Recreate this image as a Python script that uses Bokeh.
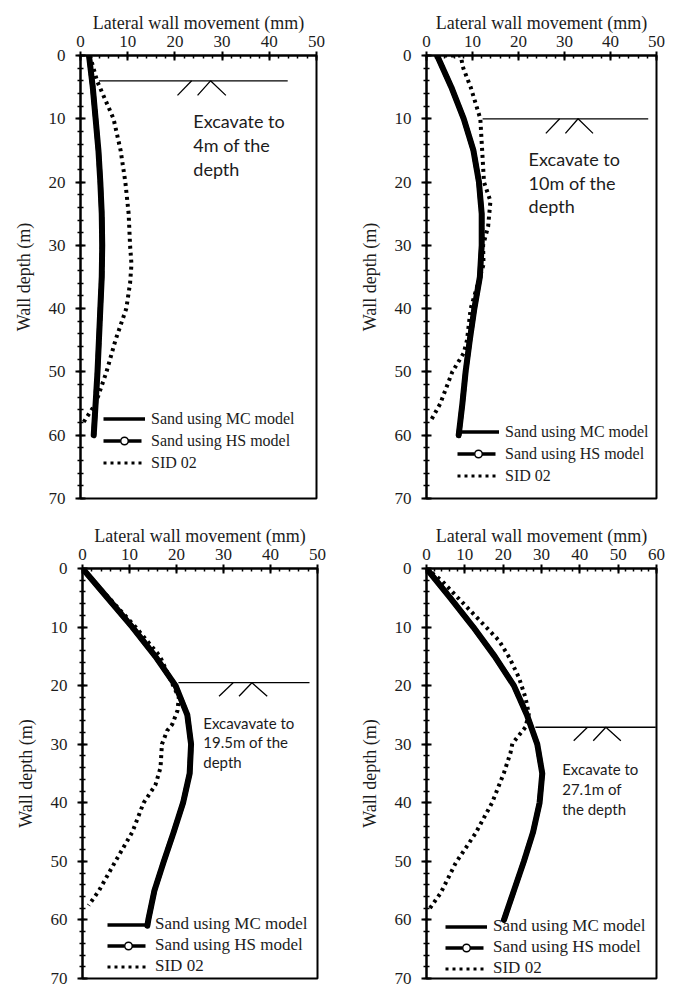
from bokeh.plotting import figure
from bokeh.models import Range1d, SingleIntervalTicker, Legend, LegendItem
from bokeh.layouts import column, row
from bokeh.embed import file_html
from bokeh.resources import INLINE
from bokeh.core.properties import value

# ---------------- data ----------------
# Panel 1: excavate to 4 m
mc1_depth = [0, 5, 10, 15, 20, 25, 30, 35, 40, 45, 50, 55, 60]
mc1_x = [1.8, 2.6, 3.2, 3.8, 4.2, 4.5, 4.6, 4.5, 4.2, 3.9, 3.6, 3.2, 2.8]
hs1_depth = mc1_depth
hs1_x = mc1_x
sid1_depth = [0, 4, 10, 15, 20, 25, 30, 33, 36, 40, 45, 50, 55, 58]
sid1_x = [2.0, 3.5, 7.0, 8.5, 9.5, 10.2, 10.5, 10.8, 10.5, 9.7, 7.4, 5.5, 3.2, 0.6]

# Panel 2: excavate to 10 m
mc2_depth = [0, 5, 10, 15, 20, 25, 30, 35, 40, 45, 50, 55, 60]
mc2_x = [2.3, 5.4, 8.1, 10.2, 11.4, 12.0, 12.0, 11.6, 10.4, 9.4, 8.5, 7.8, 7.0]
hs2_depth = mc2_depth
hs2_x = mc2_x
sid2_depth = [0, 0, 2, 5, 10, 15, 20, 23, 27, 30, 33, 40, 45, 47, 50, 55, 58]
sid2_x = [2.3, 7.4, 8.0, 9.6, 11.7, 12.1, 12.5, 13.9, 13.4, 12.3, 12.4, 9.6, 8.8, 8.1, 5.6, 3.0, 0.7]

# Panel 3: excavate to 19.5 m
mc3_depth = [0, 5, 10, 15, 20, 25, 30, 35, 40, 45, 50, 55, 60, 61]
mc3_x = [0, 5.3, 10.6, 15.5, 19.8, 22.3, 23.1, 22.8, 21.4, 19.4, 17.3, 15.3, 14.0, 13.8]
hs3_depth = mc3_depth
hs3_x = mc3_x
sid3_depth = [0, 5, 10, 15, 19, 22, 24.3, 26.6, 27.7, 30, 34, 37, 40, 45, 50, 55, 57.5]
sid3_x = [0, 5.6, 11.3, 16.5, 18.7, 20.5, 20.2, 19.1, 18.0, 16.9, 16.6, 15.5, 13.0, 10.6, 7.0, 3.5, 1.3]

# Panel 4: excavate to 27.1 m
mc4_depth = [0, 5, 10, 15, 20, 25, 30, 35, 40, 45, 50, 55, 60]
mc4_x = [0, 6.2, 12.2, 17.8, 22.8, 26.2, 28.9, 30.2, 29.5, 27.8, 25.4, 22.8, 20.2]
hs4_depth = mc4_depth
hs4_x = mc4_x
sid4_depth = [0, 2.1, 5, 9.5, 12.3, 15.2, 18.6, 22, 24.8, 27.1, 29.9, 31.5, 34.9, 40, 45.2, 50.3, 55.4, 58]
sid4_x = [0, 4.0, 8.2, 14.8, 18.9, 21.6, 24.1, 25.8, 26.7, 25.8, 22.4, 21.9, 20.2, 17.1, 12.8, 7.6, 3.7, 0.9]

# excavation levels (m) and ground line extent (mm)
exc_depths = [4, 10, 19.5, 27.1]
ground_start = [3.9, 12.2, 20.4, 28.4]
ground_end = [43.9, 48.2, 48.3, 59.8]

x_max = [50, 50, 50, 60]
x_tick_step = 10
y_max = 70
y_tick_step = 10

x_title = "Lateral wall movement (mm)"
y_title = "Wall depth (m)"
legend_labels = ["Sand using MC model", "Sand using HS model", "SID 02"]
notes = [
    ["Excavate to", "4m of the", "depth"],
    ["Excavate to", "10m of the", "depth"],
    ["Excavavate to", "19.5m of the", "depth"],
    ["Excavate to", "27.1m of", "the depth"],
]

# ---------------- styling / layout ----------------
SERIF = "Liberation Serif"
SANS = "Lato"
INK = "#1c1c1c"

layout_cfg = [
    dict(w=340, h=511, bl=80, br=24, bt=55, bb=13),
    dict(w=334, h=511, bl=86, br=18, bt=55, bb=13),
    dict(w=340, h=477, bl=82, br=23, bt=57, bb=10),
    dict(w=334, h=477, bl=86, br=18, bt=57, bb=10),
]
note_cfg = [
    dict(x=23.9, y0=10.3, dy=3.8, size="18px"),
    dict(x=22.2, y0=16.4, dy=3.7, size="18px"),
    dict(x=25.7, y0=26.3, dy=3.4, size="15px"),
    dict(x=35.4, y0=34.2, dy=3.4, size="15px"),
]
hatch_anchor = [25.8, 31.2, 34.3, 44.7]
hatch_frac = [-0.105, -0.045, -0.02, 0.035, 0.1]
hatch_h = 2.3
legend_cfg = [
    dict(loc=(23, 26), size="16px", spacing=3),
    dict(loc=(31, 13), size="16px", spacing=3),
    dict(loc=(25, 2), size="17px", spacing=1),
    dict(loc=(19, 0), size="17px", spacing=1),
]

series = [
    (mc1_x, mc1_depth, hs1_x, hs1_depth, sid1_x, sid1_depth),
    (mc2_x, mc2_depth, hs2_x, hs2_depth, sid2_x, sid2_depth),
    (mc3_x, mc3_depth, hs3_x, hs3_depth, sid3_x, sid3_depth),
    (mc4_x, mc4_depth, hs4_x, hs4_depth, sid4_x, sid4_depth),
]


def make_panel(i):
    lc = layout_cfg[i]
    mc_x, mc_d, hs_x, hs_d, sid_x, sid_d = series[i]
    xm = x_max[i]
    p = figure(width=lc["w"], height=lc["h"],
               x_range=Range1d(0, xm), y_range=Range1d(y_max, 0),
               x_axis_location="above", y_axis_location="left",
               output_backend="svg", toolbar_location=None,
               min_border_left=lc["bl"], min_border_right=lc["br"],
               min_border_top=lc["bt"], min_border_bottom=lc["bb"])
    p.grid.visible = False
    p.outline_line_color = "black"
    p.outline_line_width = 2
    p.outline_line_alpha = 1
    p.background_fill_color = "white"
    p.border_fill_color = "white"

    xa = p.xaxis[0]
    xa.ticker = SingleIntervalTicker(interval=x_tick_step, num_minor_ticks=5)
    xa.axis_label = x_title
    xa.axis_label_text_font = SERIF
    xa.axis_label_text_font_size = "18px"
    xa.axis_label_text_font_style = "normal"
    xa.axis_label_text_color = INK
    xa.axis_label_standoff = 0
    xa.major_label_text_font = SERIF
    xa.major_label_text_font_size = "17px"
    xa.major_label_text_color = INK
    xa.major_label_standoff = 5
    xa.major_tick_in = 5
    xa.major_tick_out = 4
    xa.minor_tick_in = 3
    xa.minor_tick_out = 0
    xa.axis_line_width = 2
    xa.major_tick_line_width = 2
    xa.minor_tick_line_width = 1.5

    ya = p.yaxis[0]
    ya.ticker = SingleIntervalTicker(interval=y_tick_step, num_minor_ticks=5)
    ya.axis_label = y_title
    ya.axis_label_text_font = SERIF
    ya.axis_label_text_font_size = "18px"
    ya.axis_label_text_font_style = "normal"
    ya.axis_label_text_color = INK
    ya.axis_label_standoff = 12
    ya.major_label_text_font = SERIF
    ya.major_label_text_font_size = "17px"
    ya.major_label_text_color = INK
    ya.major_label_standoff = 10
    ya.major_tick_in = 5
    ya.major_tick_out = 5
    ya.minor_tick_in = 3
    ya.minor_tick_out = 3
    ya.axis_line_width = 2
    ya.major_tick_line_width = 2
    ya.minor_tick_line_width = 1.5

    # ground line + symbol at excavation level
    d = exc_depths[i]
    p.segment(x0=[ground_start[i]], y0=[d], x1=[ground_end[i]], y1=[d],
              line_color="black", line_width=1.3)
    a = hatch_anchor[i]
    o = [a + f * xm for f in hatch_frac]
    p.multi_line(xs=[[o[0], o[1]], [o[2], o[3], o[4]]],
                 ys=[[d + hatch_h, d], [d + hatch_h, d, d + hatch_h]],
                 line_color="black", line_width=1.3)

    # series
    hs = p.line(hs_x, hs_d, line_color="black", line_width=5, line_dash="14 4")
    sid = p.line(sid_x, sid_d, line_color="black", line_width=4, line_dash="3 4")
    mc = p.line(mc_x, mc_d, line_color="black", line_width=6, line_cap="round",
                line_join="round")

    # legend samples: hidden copies of the series, only their style is used
    lg_mc = p.line(mc_x, mc_d, line_color="black", line_width=3.5, visible=False)
    lg_hs = p.line(hs_x, hs_d, line_color="black", line_width=3.5,
                   line_dash="17 4", visible=False)
    lg_hs_pt = p.scatter(hs_x, hs_d, marker="circle", size=4.5, fill_color="white",
                         line_color="black", line_width=1.5, visible=False)
    lg_sid = p.line(sid_x, sid_d, line_color="black", line_width=3.2,
                    line_dash="3 4", visible=False)

    lgc = legend_cfg[i]
    legend = Legend(items=[
        LegendItem(label=legend_labels[0], renderers=[lg_mc]),
        LegendItem(label=legend_labels[1], renderers=[lg_hs, lg_hs_pt]),
        LegendItem(label=legend_labels[2], renderers=[lg_sid]),
    ], location=lgc["loc"], padding=0, margin=0, border_line_color=None,
        background_fill_alpha=0, glyph_width=42, glyph_height=19,
        label_height=19, label_standoff=6, spacing=lgc["spacing"],
        label_text_font=SERIF, label_text_font_size=lgc["size"],
        label_text_color=INK)
    p.add_layout(legend)

    nc = note_cfg[i]
    lines = notes[i]
    p.text(x=[nc["x"]] * len(lines),
           y=[nc["y0"] + k * nc["dy"] for k in range(len(lines))],
           text=lines, text_font=value(SANS), text_font_size=nc["size"],
           text_baseline="middle", text_align="left", text_color=INK)
    return p


panels = [make_panel(i) for i in range(4)]
layout = column(row(panels[0], panels[1]), row(panels[2], panels[3]))

open("out.html", "w").write(file_html(layout, INLINE))
